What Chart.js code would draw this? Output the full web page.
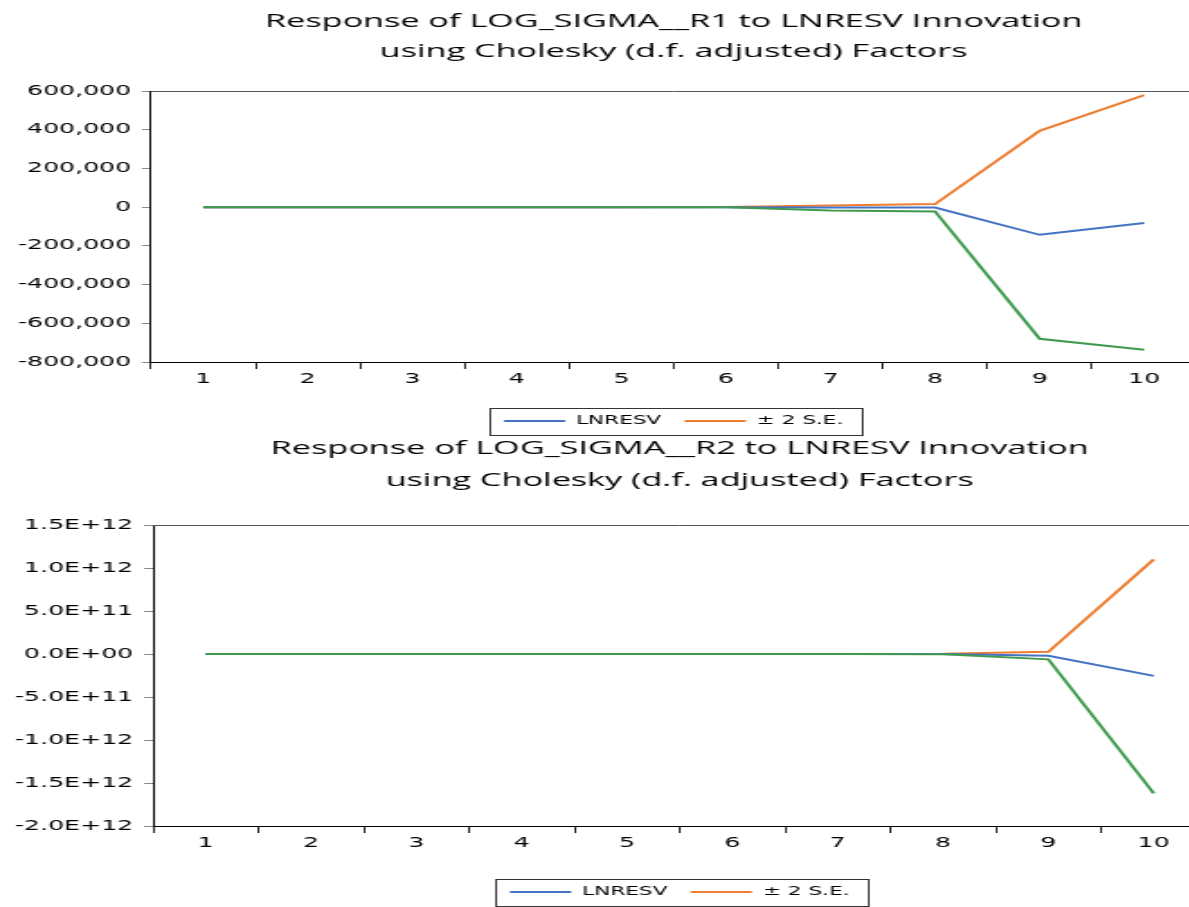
<!DOCTYPE html>
<html>
<head>
<meta charset="utf-8">
<script src="https://cdn.jsdelivr.net/npm/chart.js@4.4.1/dist/chart.umd.min.js"></script>
<style>
  html, body { margin: 0; padding: 0; background: #fff; overflow: hidden; width: 1189px; height: 907px; }
  canvas { position: absolute; left: 0; }
  #c1 { top: 0; width: 1200px !important; height: 437px !important; }
  #c2 { top: 425px; width: 1210px !important; height: 483px !important; }
</style>
</head>
<body>
<canvas id="c1" width="667" height="437" style="width:1200px;height:437px"></canvas>
<canvas id="c2" width="672" height="483" style="width:1210px;height:483px"></canvas>
<script>
// periods 1..10
var periods = ['1', '2', '3', '4', '5', '6', '7', '8', '9', '10'];

// Response of LOG_SIGMA__R1
var r1Resp  = [0, 0, 0, 0, 0, 0, -2000, -2000, -143000, -82000];
var r1Upper = [0, 0, 0, 0, 0, 200, 9000, 16000, 394000, 579000];
var r1Lower = [0, 0, 0, 0, 0, -300, -17000, -22000, -680000, -737000];

// Response of LOG_SIGMA__R2
var r2Resp  = [0, 0, 0, 0, 0, 0, 0, -1e9, -2e10, -2.54e11];
var r2Upper = [0, 0, 0, 0, 0, 0, 0, 2e9, 2.7e10, 1.10e12];
var r2Lower = [0, 0, 0, 0, 0, 0, 0, -3e9, -6.2e10, -1.62e12];

var BLUE = '#4472C4', ORANGE = '#ED7D31', GREEN = '#3F9A4E';
var S = 1.8; // horizontal stretch of the picture

function commas(v) {
  var s = String(Math.abs(Math.round(v))).replace(/\B(?=(\d{3})+(?!\d))/g, ',');
  return (v < 0 ? '-' : '') + s;
}
function sci(v) {
  if (Math.abs(v) < 1) return '0.0E+00';
  var e = Math.floor(Math.log10(Math.abs(v)) + 1e-9);
  var m = v / Math.pow(10, e);
  return m.toFixed(1) + 'E' + (e < 0 ? '-' : '+') + String(Math.abs(e)).padStart(2, '0');
}

// frame round the plot area and a box round the legend
var framePlugin = {
  id: 'frame',
  beforeDatasetsDraw: function(chart) {
    var a = chart.chartArea, ctx = chart.ctx;
    ctx.save();
    ctx.strokeStyle = '#555';
    ctx.lineWidth = 1;
    ctx.beginPath();
    ctx.moveTo(a.left, a.top + 0.5);
    ctx.lineTo(a.right, a.top + 0.5);
    ctx.lineTo(a.right, a.bottom);
    ctx.stroke();
    ctx.restore();
  },
  afterDraw: function(chart) {
    var hb = chart.legend.legendHitBoxes;
    if (!hb || !hb.length) return;
    var first = hb[0], last = hb[hb.length - 1];
    var ctx = chart.ctx;
    ctx.save();
    ctx.strokeStyle = '#333';
    ctx.lineWidth = 1;
    var x0 = Math.round(first.left - 8) + 0.5;
    var x1 = Math.round(last.left + last.width + 10) + 0.5;
    var y0 = Math.round(first.top - 7.5) + 0.5;
    var y1 = Math.round(first.top + first.height + 7.5) + 0.5;
    ctx.strokeRect(x0, y0, x1 - x0, y1 - y0);
    ctx.restore();
  }
};

function makeChart(id, title, titleLine, titlePad, resp, upper, lower, yMin, yMax, yStep, fmt, yWidth, xHeight) {
  var ctx = document.getElementById(id).getContext('2d');
  return new Chart(ctx, {
    type: 'line',
    data: {
      labels: periods,
      datasets: [
        { label: 'LNRESV', data: resp, borderColor: BLUE, backgroundColor: BLUE, borderWidth: 2, order: 1 },
        { label: '\u00B1 2 S.E.', data: upper, borderColor: ORANGE, backgroundColor: ORANGE, borderWidth: 2, order: 2 },
        { label: '', data: lower, borderColor: GREEN, backgroundColor: GREEN, borderWidth: 2, order: 0 }
      ]
    },
    options: {
      responsive: false,
      animation: false,
      devicePixelRatio: 1,
      layout: { padding: { left: 0, right: 2, top: 0, bottom: 0 } },
      elements: { point: { radius: 0 }, line: { tension: 0 } },
      plugins: {
        tooltip: { enabled: false },
        title: {
          display: true,
          fullSize: false,
          text: title,
          color: '#000',
          font: { family: 'Open Sans', size: 19, weight: 'normal', lineHeight: titleLine },
          padding: titlePad
        },
        legend: {
          position: 'bottom',
          fullSize: false,
          labels: {
            usePointStyle: true,
            pointStyle: 'line',
            pointStyleWidth: 34,
            padding: 13,
            color: '#000',
            font: { family: 'DejaVu Sans', size: 12 },
            filter: function(item) { return item.text !== ''; }
          }
        }
      },
      scales: {
        x: {
          offset: true,
          grid: { offset: true, drawOnChartArea: false, tickLength: 7, color: '#222' },
          border: { color: '#000', width: 1 },
          ticks: { color: '#000', padding: 2, font: { family: 'DejaVu Sans', size: 14 } },
          afterFit: function(s) { s.height = xHeight; }
        },
        y: {
          min: yMin,
          max: yMax,
          grid: { drawOnChartArea: false, tickLength: 5, color: '#888' },
          border: { color: '#000', width: 1 },
          ticks: {
            stepSize: yStep,
            color: '#000',
            padding: 6,
            font: { family: 'DejaVu Sans', size: 14 },
            callback: function(v) { return fmt(v); }
          },
          afterFit: function(s) { s.width = yWidth; }
        }
      }
    },
    plugins: [framePlugin]
  });
}

makeChart('c1',
  ['Response of LOG_SIGMA__R1 to LNRESV Innovation', 'using Cholesky (d.f. adjusted) Factors'],
  30 / 19, { top: 7, bottom: 24 },
  r1Resp, r1Upper, r1Lower, -800000, 600000, 200000, commas, 151 / S, 40);

makeChart('c2',
  ['Response of LOG_SIGMA__R2 to LNRESV Innovation', 'using Cholesky (d.f. adjusted) Factors'],
  32 / 19, { top: 8, bottom: 28 },
  r2Resp, r2Upper, r2Lower, -2e12, 1.5e12, 5e11, sci, 153 / S, 47);
</script>
</body>
</html>
